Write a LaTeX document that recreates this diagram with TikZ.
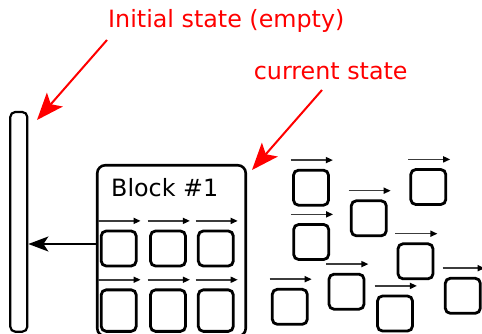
\documentclass[tikz,border=0pt]{standalone}
\usepackage{fontspec}
\setmainfont{DejaVu Sans}
\usetikzlibrary{arrows.meta}
\definecolor{myred}{RGB}{255,0,0}
\definecolor{mygray}{RGB}{60,60,60}
\tikzset{
  sq/.style={draw, line width=2.8pt, rounded corners=5pt, minimum width=35pt, minimum height=35pt, inner sep=0pt},
  sqtall/.style={sq, minimum height=41.5pt},
  topar/.style={draw=mygray, line width=1.5pt, -{Stealth[length=7pt,width=6pt,inset=0pt,color=black]}},
  redarr/.style={draw=myred, line width=2pt, -{Stealth[length=27pt,width=21pt,inset=6pt]}},
  blkarr/.style={draw=black, line width=2pt, -{Stealth[length=20pt,width=15pt,inset=5pt]}},
  lbl/.style={inner sep=0pt, anchor=base west, font=\fontsize{23.8pt}{28pt}\selectfont},
}
\begin{document}
\begin{tikzpicture}[x=1pt,y=-1pt]
\clip (0,0) rectangle (482,334);
\useasboundingbox (0,0) rectangle (482,334);
% bar
\node[draw, line width=2.2pt, rounded corners=5pt, minimum width=17pt, minimum height=219.7pt, inner sep=0pt] (bar) at (18.8,221.85) {};
% block
\node[draw, line width=2.6pt, rounded corners=8pt, minimum width=148.5pt, minimum height=171pt, inner sep=0pt] (blk) at (171.5,250.75) {};
\node[lbl] (blktxt) at (111,196.7) {Block \#1};
% inner squares
\node[sq] (b11) at (118.7,248.5) {};
\node[sq] (b12) at (168,248.5) {};
\node[sq] (b13) at (215.8,248.5) {};
\node[sqtall] (b21) at (118.7,310.6) {};
\node[sqtall] (b22) at (168,310.6) {};
\node[sqtall] (b23) at (215.8,310.6) {};
% scattered squares
\node[sq] (s1) at (311,187.7) {};
\node[sq] (s2) at (428.3,187) {};
\node[sq] (s3) at (368.8,218.3) {};
\node[sq] (s4) at (311.2,242) {};
\node[sq] (s5) at (415.5,261.3) {};
\node[sq] (s6) at (346.5,291.7) {};
\node[sq] (s7) at (289.8,306.8) {};
\node[sq] (s8) at (395,313.5) {};
\node[sq] (s9) at (462.8,295.8) {};
\foreach \n in {b11,b12,b13,b21,b22,b23,s1,s2,s3,s4,s5,s6,s7,s8,s9}{
  \draw[topar] ([shift={(-1.4,-8.7)}]\n.north west) -- ([shift={(3,-8.7)}]\n.north east);
}
% black arrow
\coordinate (arrs) at (blk.west |- 0,244);
\draw[blkarr] (arrs) -- (bar.east |- arrs);
% red labels and arrows
\node[lbl, text=myred] (init) at (108,28) {Initial state (empty)};
\node[lbl, text=myred] (cur) at (253.7,80) {current state};
\coordinate (r1s) at (107,40);
\coordinate (r1e) at (37,120);
\coordinate (r2s) at (322,90);
\coordinate (r2e) at (252,170);
\draw[redarr] (r1s) -- (r1e);
\draw[redarr] (r2s) -- (r2e);
\end{tikzpicture}
\end{document}
